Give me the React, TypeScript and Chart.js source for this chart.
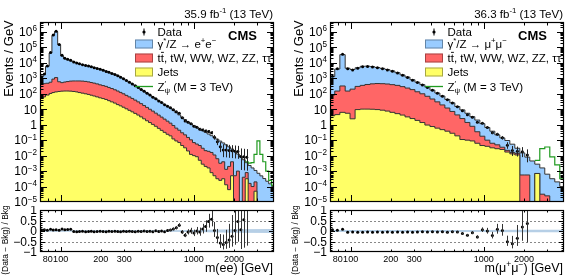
import React, { useEffect, useRef } from 'react';
import { Chart, registerables } from 'chart.js';

Chart.register(...registerables);

// ---------------- data (events / GeV) ----------------
// dielectron channel: bin edges (GeV)
const EE_EDGES = [70, 74, 77, 82, 86, 90, 95, 100, 105, 110, 116, 122, 129, 135, 142, 150, 158, 166, 174, 183,
  193, 203, 214, 225, 236, 249, 262, 275, 289, 304, 320, 337, 354, 373, 392, 413, 434, 457, 480, 505,
  532, 559, 588, 619, 651, 685, 720, 758, 797, 839, 882, 928, 977, 1027, 1081, 1137, 1196, 1258, 1324, 1393,
  1465, 1541, 1621, 1706, 1794, 1888, 1986, 2089, 2198, 2312, 2432, 2559, 2692, 2832, 2979, 3134, 3297, 3468, 3649, 3838, 4038];
// stacked levels: Jets ; Jets + ttbar/tW/VV/tautau ; full stack (with DY)
const EE_JETS = [50, 63, 83, 105, 120, 132, 141, 148, 151, 151,
  148, 141, 132, 120, 110, 100, 91, 81, 72, 63,
  55, 49, 43, 36, 30, 25, 20, 16.6, 13.5, 10.7,
  8.5, 6.8, 5.4, 4.2, 3.2, 2.4, 1.8, 1.38, 1.05, 0.79,
  0.58, 0.43, 0.32, 0.24, 0.19, 0.12, 0.089, 0.07, 0.045, 0.032,
  0.020, 0.012, 0.010, 0.0085, 0.0050, 0.0028, 0.0020, 0.0016, 7.9e-4, 5e-4,
  3.2e-4, 2.5e-4, 3.2e-4, 1.3e-4, 6.3e-5, 5e-4, 0, 0, 0, 0,
  3.2e-4, 0, 0, 5e-5, 0, 0, 0, 0, 0, 0];
const EE_TOPSTACK = [420, 450, 480, 560, 890, 1120, 600, 525, 575, 617,
  661, 676, 676, 676, 661, 631, 589, 537, 490, 437,
  380, 339, 302, 257, 219, 182, 151, 123, 100, 79,
  63, 50, 39, 30, 23, 17.4, 13.2, 10, 7.6, 5.6,
  4.2, 3.1, 2.3, 1.7, 1.26, 0.89, 0.60, 0.44, 0.30, 0.22,
  0.15, 0.105, 0.070, 0.056, 0.045, 0.030, 0.021, 0.019, 0.016, 0.011,
  0.0063, 0.0032, 0.0040, 0.0013, 0.0020, 0.0040, 5e-4, 1e-3, 0, 4e-4,
  8e-4, 1.6e-4, 1e-4, 2e-4, 0, 0, 0, 0, 0, 0];
const EE_TOTAL = [1.2e3, 1.8e3, 6e3, 4.3e4, 6e5, 1.05e6, 1.5e5, 2.8e4, 1.9e4, 1.6e4,
  1.35e4, 1.15e4, 1.0e4, 8.8e3, 7.7e3, 7.0e3, 6.3e3, 5.6e3, 5.0e3, 4.4e3,
  3.9e3, 3.4e3, 2.9e3, 2.5e3, 2.1e3, 1.8e3, 1.5e3, 1.2e3, 945, 725,
  560, 435, 335, 260, 195, 148, 110, 83, 62, 47,
  35, 27, 20, 15.5, 11.7, 8.5, 6.0, 4.3, 3.0, 2.15,
  1.5, 1.15, 0.89, 0.69, 0.54, 0.42, 0.32, 0.25, 0.195, 0.15,
  0.115, 0.087, 0.066, 0.050, 0.037, 0.027, 0.019, 0.0126, 0.0083, 0.0054,
  0.0035, 0.0023, 0.0016, 0.0011, 7.2e-4, 4.9e-4, 3.3e-4, 2.2e-4, 1.5e-4, 1.0e-4];
const EE_DATA = [1260, 1910, 6240, 46400, 630000, 1113000, 156000, 30800, 20100, 17100,
  14700, 11270, 9700, 8620, 7620, 6790, 6170, 5540, 4850, 4310,
  3860, 3330, 2810, 2475, 2060, 1780, 1470, 1164, 936, 711,
  554, 426, 325, 257, 191, 148, 108, 82.2, 60.1, 47.5,
  34.3, 27.0, 19.2, 15.8, 12.3, 9.35, 6.9, 5.5, 2.85, 1.72,
  1.43, 1.15, 0.80, 0.69, 0.513, 0.458, 0.387, 0.364, 0.304, 0.153,
  0.079, 0.0375, 0.0235, 0.0227, 0.0213, 0.0204, 0.0194, 0.0183, 0.0088, 0.0083,
  0.0079, 0, 0, 0, 0, 0, 0, 0, 0, 0];
const EE_SIGNAL_FIRST_BIN = 70; // Z'psi (3 TeV) + background, from this bin on
const EE_SIGNAL = [0.004, 0.0033, 0.0035, 0.012, 0.09, 0.012, 0.004, 0.001, 2.5e-4, 1.2e-4];
const EE_BAND_MASS = [70, 600, 1000, 2000, 4000];
const EE_BAND_HALF = [0.03, 0.035, 0.05, 0.08, 0.09];

// dimuon channel
const MM_EDGES = [70, 76, 83, 91, 99, 108, 118, 128, 140, 152, 166, 181, 197, 215, 235, 256, 279, 304, 331, 361,
  394, 429, 468, 510, 556, 606, 661, 721, 786, 856, 934, 1018, 1110, 1210, 1319, 1438, 1568, 1709, 1863, 2031,
  2214, 2414, 2632, 2869, 3128, 3410, 3718, 4053];
const MM_JETS = [3.8, 4.5, 6.3, 5.5, 2.4, 9.5, 10.2, 10.2, 10, 9.5,
  8.7, 7.6, 6.3, 5.2, 4.2, 3.2, 2.5, 1.9, 1.38, 0.95,
  0.76, 0.6, 0.48, 0.38, 0.28, 0.19, 0.11, 0.1, 0.089, 0.063,
  0.045, 0.04, 0.032, 0.028, 0.025, 0.017, 0.013, 0.011, 0, 0,
  0, 7e-4, 0, 0, 0, 0, 0];
const MM_TOPSTACK = [83, 150, 320, 150, 200, 300, 350, 400, 440, 460,
  450, 430, 390, 350, 290, 235, 186, 135, 100, 69,
  46, 30, 19, 12, 7.2, 4.3, 2.5, 1.4, 0.79, 0.35,
  0.18, 0.10, 0.063, 0.05, 0.035, 0.022, 0.016, 0.014, 5.6e-4, 5.6e-4,
  0, 7e-4, 3.2e-5, 2.5e-5, 0, 0, 0];
const MM_TOTAL = [1.3e3, 4.0e3, 3.4e4, 4.5e3, 3.7e3, 4.8e3, 6.0e3, 6.1e3, 5.7e3, 5.0e3,
  4.4e3, 3.7e3, 3.0e3, 2.3e3, 1.66e3, 1.2e3, 810, 560, 390, 270,
  174, 112, 72, 43, 26, 15, 9.1, 5.5, 3.3, 2.0,
  1.17, 0.66, 0.38, 0.22, 0.14, 0.095, 0.055, 0.030, 0.015, 0.008,
  0.0045, 0.0028, 0.0016, 6.3e-4, 3.2e-4, 2e-4, 1e-4];
const MM_DATA = [1378, 4120, 36700, 4230, 3515, 4512, 5640, 5795, 5358, 4750,
  4136, 3515, 2820, 2185, 1560, 1140, 761, 532, 374, 256.5,
  168.8, 106.4, 69.1, 40.4, 25.2, 14.25, 8.0, 4.4, 3.04, 1.44,
  1.238, 0.663, 0.30, 0.2385, 0.1429, 0.0462, 0.0213, 0.0195, 0.0179, 0.0109,
  0, 0, 0, 0, 0, 0, 0];
const MM_SIGNAL_FIRST_BIN = 41;
const MM_SIGNAL = [0.005, 0.028, 0.036, 0.0083, 0.0025, 3.2e-4];
const MM_BAND_MASS = [70, 1000, 2000, 4000];
const MM_BAND_HALF = [0.05, 0.05, 0.06, 0.06];

// axes
const X_MIN = 70, X_MAX = 4000;
const Y_MIN = 1e-5, Y_MAX = 4.4e6;
const X_MAJOR_TICKS = [100, 1000];
const X_MINOR_TICKS = [80, 90, 200, 300, 400, 500, 600, 700, 800, 900, 2000, 3000];
const X_TICK_LABELS = [80, 100, 200, 300, 1000, 2000];
const Y_DECADES = [-5, -4, -3, -2, -1, 0, 1, 2, 3, 4, 5, 6];
const RATIO_TICK_LABELS = [1, 0.5, 0, -0.5, -1];
const RATIO_GUIDES = [0.5, -0.5];

// ---------------- style ----------------
const FONT = '"Liberation Sans", Arial, Helvetica, sans-serif';
const BLUE = '#99ccff';
const RED = '#ff6666';
const YELLOW = '#ffff66';
const GREEN = '#1f9a1f';
const OUTLINE = '#333333';
const BAND = 'rgba(110,160,205,0.5)';
const MAIN_H = 206;
const RATIO_H = 73;
const PLOT_LEFT = 40;
const PLOT_RIGHT = 274;
const FLOOR = 1e-9;

type Part = { t: string; s?: 'sup' | 'sub'; bar?: boolean; keep?: boolean };

interface Channel {
  edges: number[]; jets: number[]; top: number[]; total: number[]; data: number[];
  sigFirst: number; signal: number[]; bandMass: number[]; bandHalf: number[];
  lumi: Part[]; dyLabel: Part[]; xTitle: Part[];
}

const EE: Channel = {
  edges: EE_EDGES, jets: EE_JETS, top: EE_TOPSTACK, total: EE_TOTAL, data: EE_DATA,
  sigFirst: EE_SIGNAL_FIRST_BIN, signal: EE_SIGNAL, bandMass: EE_BAND_MASS, bandHalf: EE_BAND_HALF,
  lumi: [{ t: '35.9 fb' }, { t: '-1', s: 'sup' }, { t: ' (13 TeV)' }],
  dyLabel: [{ t: 'γ' }, { t: '*', s: 'sup' }, { t: '/Z → e' }, { t: '+', s: 'sup' }, { t: 'e' }, { t: '−', s: 'sup' }],
  xTitle: [{ t: 'm(ee) [GeV]' }],
};
const MM: Channel = {
  edges: MM_EDGES, jets: MM_JETS, top: MM_TOPSTACK, total: MM_TOTAL, data: MM_DATA,
  sigFirst: MM_SIGNAL_FIRST_BIN, signal: MM_SIGNAL, bandMass: MM_BAND_MASS, bandHalf: MM_BAND_HALF,
  lumi: [{ t: '36.3 fb' }, { t: '-1', s: 'sup' }, { t: ' (13 TeV)' }],
  dyLabel: [{ t: 'γ' }, { t: '*', s: 'sup' }, { t: '/Z → μ' }, { t: '+', s: 'sup' }, { t: 'μ' }, { t: '−', s: 'sup' }],
  xTitle: [{ t: 'm(μ' }, { t: '+', s: 'sup' }, { t: 'μ' }, { t: '−', s: 'sup' }, { t: ') [GeV]' }],
};

// ---------------- helpers ----------------
function partSize(p: Part, size: number) { return p.s ? size * 0.68 : size; }

function drawRich(ctx: CanvasRenderingContext2D, parts: Part[], x: number, y: number, size: number,
  align: 'left' | 'right' | 'center' = 'left', weight = 'normal') {
  let total = 0;
  for (const p of parts) {
    ctx.font = `${weight} ${partSize(p, size)}px ${FONT}`;
    if (!p.keep) total += ctx.measureText(p.t).width;
  }
  let cx = align === 'right' ? x - total : align === 'center' ? x - total / 2 : x;
  ctx.textAlign = 'left';
  ctx.textBaseline = 'alphabetic';
  for (const p of parts) {
    const sz = partSize(p, size);
    ctx.font = `${weight} ${sz}px ${FONT}`;
    const dy = p.s === 'sup' ? -size * 0.4 : p.s === 'sub' ? size * 0.25 : 0;
    ctx.fillText(p.t, cx, y + dy);
    const w = ctx.measureText(p.t).width;
    if (p.bar) {
      const lw = ctx.measureText(p.t.slice(-1)).width;
      ctx.fillRect(cx + w - lw + 0.3, y - size * 0.88, lw - 0.3, 0.9);
    }
    if (!p.keep) cx += w;
  }
}

function stepPoints(edges: number[], vals: number[], first = 0) {
  const pts = vals.map((v, i) => ({ x: edges[first + i], y: v > 0 ? v : FLOOR }));
  const last = vals[vals.length - 1];
  pts.push({ x: edges[first + vals.length], y: last > 0 ? last : FLOOR });
  return pts;
}

function dataPoints(ch: Channel) {
  const out: { x: number; y: number; lo: number; hi: number; bkg: number }[] = [];
  ch.data.forEach((v, i) => {
    if (!(v > 0)) return;
    const lo = ch.edges[i], hi = ch.edges[i + 1];
    const w = hi - lo;
    const n = Math.max(1, Math.round(v * w));
    const eLo = Math.sqrt(n - 0.25) / n * v;
    const eHi = (Math.sqrt(n + 0.75) + 1) / n * v;
    out.push({ x: (lo + hi) / 2, y: v, lo: v - eLo, hi: v + eHi, bkg: ch.total[i] });
  });
  return out;
}

function drawTicks(ctx: CanvasRenderingContext2D, a: any, xs: any, ys: any,
  yMajor: number[], yMinor: number[], xMaj: number, xMin: number, yMaj: number, yMin: number) {
  ctx.save();
  ctx.strokeStyle = '#000';
  ctx.lineWidth = 1;
  ctx.beginPath();
  const xt = (vals: number[], len: number) => {
    for (const v of vals) {
      const p = Math.round(xs.getPixelForValue(v)) + 0.5;
      ctx.moveTo(p, a.bottom); ctx.lineTo(p, a.bottom - len);
      ctx.moveTo(p, a.top); ctx.lineTo(p, a.top + len);
    }
  };
  const yt = (vals: number[], len: number) => {
    for (const v of vals) {
      const p = Math.round(ys.getPixelForValue(v)) + 0.5;
      if (p < a.top || p > a.bottom) continue;
      ctx.moveTo(a.left, p); ctx.lineTo(a.left + len, p);
      ctx.moveTo(a.right, p); ctx.lineTo(a.right - len, p);
    }
  };
  xt(X_MAJOR_TICKS, xMaj); xt(X_MINOR_TICKS, xMin);
  yt(yMajor, yMaj); yt(yMinor, yMin);
  ctx.stroke();
  ctx.lineWidth = 1.2;
  ctx.strokeRect(a.left + 0.5, a.top + 0.5, a.right - a.left - 1, a.bottom - a.top - 1);
  ctx.restore();
}

// ---------------- main (log) panel ----------------
function buildMain(canvas: HTMLCanvasElement, ch: Channel, width: number) {
  const pts = dataPoints(ch);
  const yMajor = Y_DECADES.map((n) => Math.pow(10, n));
  const yMinor: number[] = [];
  for (const n of Y_DECADES) for (let k = 2; k <= 9; k++) yMinor.push(k * Math.pow(10, n));

  const decor = {
    id: 'mainDecor',
    afterDatasetsDraw(chart: any) {
      const { ctx, chartArea: a, scales } = chart;
      const xs = scales.x, ys = scales.y;
      ctx.save();
      ctx.beginPath(); ctx.rect(a.left, a.top, a.right - a.left, a.bottom - a.top); ctx.clip();
      ctx.strokeStyle = '#222'; ctx.lineWidth = 1;
      ctx.beginPath();
      for (const p of pts) {
        const px = Math.round(xs.getPixelForValue(p.x)) + 0.5;
        const yl = p.lo > 0 ? ys.getPixelForValue(p.lo) : a.bottom + 5;
        ctx.moveTo(px, ys.getPixelForValue(p.hi)); ctx.lineTo(px, yl);
      }
      ctx.stroke();
      ctx.restore();
    },
    afterDraw(chart: any) {
      const { ctx, chartArea: a, scales } = chart;
      const xs = scales.x, ys = scales.y;
      drawTicks(ctx, a, xs, ys, yMajor, yMinor, 7, 3.5, 7, 3.5);
      ctx.fillStyle = '#000';
      for (const n of Y_DECADES) {
        const y = ys.getPixelForValue(Math.pow(10, n));
        const parts: Part[] = n === 0 ? [{ t: '1' }] : n === 1 ? [{ t: '10' }]
          : [{ t: '10' }, { t: n < 0 ? '−' + (-n) : String(n), s: 'sup' }];
        drawRich(ctx, parts, a.left - 3, y + 4.3, 12, 'right');
      }
      ctx.save();
      ctx.translate(9.5, 58.5);
      ctx.rotate(-Math.PI / 2);
      ctx.font = `13px ${FONT}`; ctx.textAlign = 'center'; ctx.textBaseline = 'middle';
      ctx.fillText('Events / GeV', 0, 0);
      ctx.restore();
      drawRich(ctx, ch.lumi, a.right - 1, 17.5, 11.5, 'right');
      drawRich(ctx, [{ t: 'CMS' }], 257, 40, 13, 'right', 'bold');
      const lx = 135, tx = 157.5, fs = 11.5;
      ctx.fillStyle = '#000';
      ctx.beginPath(); ctx.arc(144, 32, 1.6, 0, Math.PI * 2); ctx.fill();
      ctx.fillRect(143.5, 28.5, 1, 7);
      drawRich(ctx, [{ t: 'Data' }], tx, 36.2, fs);
      const box = (y: number, col: string) => {
        ctx.fillStyle = col; ctx.fillRect(lx, y, 18, 9);
        ctx.strokeStyle = 'rgba(0,0,0,0.35)'; ctx.lineWidth = 1; ctx.strokeRect(lx + 0.5, y + 0.5, 17, 8);
        ctx.fillStyle = '#000';
      };
      box(39.5, BLUE); drawRich(ctx, ch.dyLabel, tx, 48, fs);
      box(53.5, RED); drawRich(ctx, [{ t: 'tt', bar: true }, { t: ', tW, WW, WZ, ZZ, ττ' }], tx, 62, fs);
      box(67.5, YELLOW); drawRich(ctx, [{ t: 'Jets' }], tx, 76, fs);
      ctx.strokeStyle = GREEN; ctx.lineWidth = 1.3;
      ctx.beginPath(); ctx.moveTo(lx, 86.5); ctx.lineTo(lx + 18, 86.5); ctx.stroke();
      drawRich(ctx, [{ t: 'Z' }, { t: '\u2032', s: 'sup', keep: true }, { t: 'ψ', s: 'sub' }, { t: ' (M = 3 TeV)' }], tx, 90.5, fs);
    },
  };

  const hist = (vals: number[], color: string, order: number) => ({
    type: 'line' as const, data: stepPoints(ch.edges, vals), stepped: true, fill: 'start',
    backgroundColor: color, borderColor: OUTLINE, borderWidth: 1, pointRadius: 0, order, clip: 0,
  });

  return new Chart(canvas, {
    type: 'line',
    data: {
      datasets: [
        hist(ch.total, BLUE, 4),
        hist(ch.top, RED, 3),
        hist(ch.jets, YELLOW, 2),
        {
          type: 'line', data: stepPoints(ch.edges, ch.signal, ch.sigFirst), stepped: true, fill: false,
          borderColor: GREEN, borderWidth: 1.2, pointRadius: 0, order: 1, clip: 0,
        },
        {
          type: 'scatter', data: pts.map((p) => ({ x: p.x, y: p.y })), pointRadius: 1.5,
          pointBackgroundColor: '#000', pointBorderWidth: 0, showLine: false, order: 0, clip: 0,
        },
      ] as any,
    },
    options: {
      animation: false, responsive: false, maintainAspectRatio: false, events: [],
      layout: { padding: { left: PLOT_LEFT, right: width - PLOT_RIGHT, top: 22, bottom: 2 } },
      plugins: { legend: { display: false }, tooltip: { enabled: false }, title: { display: false } },
      scales: {
        x: { type: 'logarithmic', min: X_MIN, max: X_MAX, display: false },
        y: { type: 'logarithmic', min: Y_MIN, max: Y_MAX, display: false },
      },
    } as any,
    plugins: [decor],
  });
}

// ---------------- ratio panel ----------------
function buildRatio(canvas: HTMLCanvasElement, ch: Channel, width: number) {
  const pts = dataPoints(ch);
  const yMajor = [-1, -0.5, 0, 0.5, 1];
  const yMinor: number[] = [];
  for (let k = -9; k <= 9; k++) if (k % 5 !== 0) yMinor.push(k / 10);

  const decor = {
    id: 'ratioDecor',
    beforeDatasetsDraw(chart: any) {
      const { ctx, chartArea: a, scales } = chart;
      ctx.save();
      ctx.strokeStyle = '#888'; ctx.lineWidth = 1; ctx.setLineDash([2, 2]);
      ctx.beginPath();
      for (const g of RATIO_GUIDES) {
        const y = Math.round(scales.y.getPixelForValue(g)) + 0.5;
        ctx.moveTo(a.left, y); ctx.lineTo(a.right, y);
      }
      ctx.stroke();
      ctx.restore();
    },
    afterDatasetsDraw(chart: any) {
      const { ctx, chartArea: a, scales } = chart;
      const xs = scales.x, ys = scales.y;
      ctx.save();
      ctx.beginPath(); ctx.rect(a.left, a.top, a.right - a.left, a.bottom - a.top); ctx.clip();
      ctx.strokeStyle = '#333'; ctx.lineWidth = 1;
      ctx.beginPath();
      for (const p of pts) {
        const px = Math.round(xs.getPixelForValue(p.x)) + 0.5;
        ctx.moveTo(px, ys.getPixelForValue((p.hi - p.bkg) / p.bkg));
        ctx.lineTo(px, ys.getPixelForValue((p.lo - p.bkg) / p.bkg));
      }
      ctx.stroke();
      ctx.restore();
    },
    afterDraw(chart: any) {
      const { ctx, chartArea: a, scales } = chart;
      const xs = scales.x, ys = scales.y;
      drawTicks(ctx, a, xs, ys, yMajor, yMinor, 5, 2.5, 5, 2.5);
      ctx.fillStyle = '#000';
      for (const v of RATIO_TICK_LABELS) {
        const y = ys.getPixelForValue(v);
        const s = v < 0 ? '−' + String(-v) : String(v);
        drawRich(ctx, [{ t: s }], a.left - 3, y + 4.3, 12, 'right');
      }
      for (const v of X_TICK_LABELS) {
        drawRich(ctx, [{ t: String(v) }], xs.getPixelForValue(v), a.bottom + 10, 9, 'center');
      }
      drawRich(ctx, ch.xTitle, a.right - 1, 65.5, 12.5, 'right');
      ctx.save();
      ctx.translate(5.5, 34);
      ctx.rotate(-Math.PI / 2);
      ctx.font = `8.5px ${FONT}`; ctx.textAlign = 'center'; ctx.textBaseline = 'middle';
      ctx.fillText('(Data − Bkg) / Bkg', 0, 0);
      ctx.restore();
    },
  };

  return new Chart(canvas, {
    type: 'line',
    data: {
      datasets: [
        {
          type: 'line', data: ch.bandMass.map((m, i) => ({ x: m, y: ch.bandHalf[i] })), fill: 1,
          backgroundColor: BAND, borderWidth: 0, pointRadius: 0, order: 3,
        },
        {
          type: 'line', data: ch.bandMass.map((m, i) => ({ x: m, y: -ch.bandHalf[i] })), fill: false,
          borderWidth: 0, pointRadius: 0, order: 2,
        },
        {
          type: 'scatter', data: pts.map((p) => ({ x: p.x, y: (p.y - p.bkg) / p.bkg })), pointRadius: 1.5,
          pointBackgroundColor: '#000', pointBorderWidth: 0, showLine: false, order: 0, clip: 0,
        },
      ] as any,
    },
    options: {
      animation: false, responsive: false, maintainAspectRatio: false, events: [],
      layout: { padding: { left: PLOT_LEFT, right: width - PLOT_RIGHT, top: 3, bottom: 27 } },
      plugins: { legend: { display: false }, tooltip: { enabled: false }, title: { display: false } },
      scales: {
        x: { type: 'logarithmic', min: X_MIN, max: X_MAX, display: false },
        y: { type: 'linear', min: -1, max: 1, display: false },
      },
    } as any,
    plugins: [decor],
  });
}

function Panel({ ch, left, width }: { ch: Channel; left: number; width: number }) {
  const mainRef = useRef<HTMLCanvasElement>(null);
  const ratioRef = useRef<HTMLCanvasElement>(null);
  useEffect(() => {
    const m = buildMain(mainRef.current as HTMLCanvasElement, ch, width);
    const r = buildRatio(ratioRef.current as HTMLCanvasElement, ch, width);
    return () => { m.destroy(); r.destroy(); };
  }, [ch, width]);
  return (
    <>
      <canvas ref={mainRef} width={width} height={MAIN_H}
        style={{ position: 'absolute', left, top: 0, width, height: MAIN_H }} />
      <canvas ref={ratioRef} width={width} height={RATIO_H}
        style={{ position: 'absolute', left, top: MAIN_H, width, height: RATIO_H }} />
    </>
  );
}

export default function App() {
  return (
    <div style={{ position: 'absolute', left: 0, top: 0, width: 584, height: 279, background: '#fff', overflow: 'hidden' }}>
      <Panel ch={EE} left={0} width={290} />
      <Panel ch={MM} left={290} width={294} />
    </div>
  );
}
